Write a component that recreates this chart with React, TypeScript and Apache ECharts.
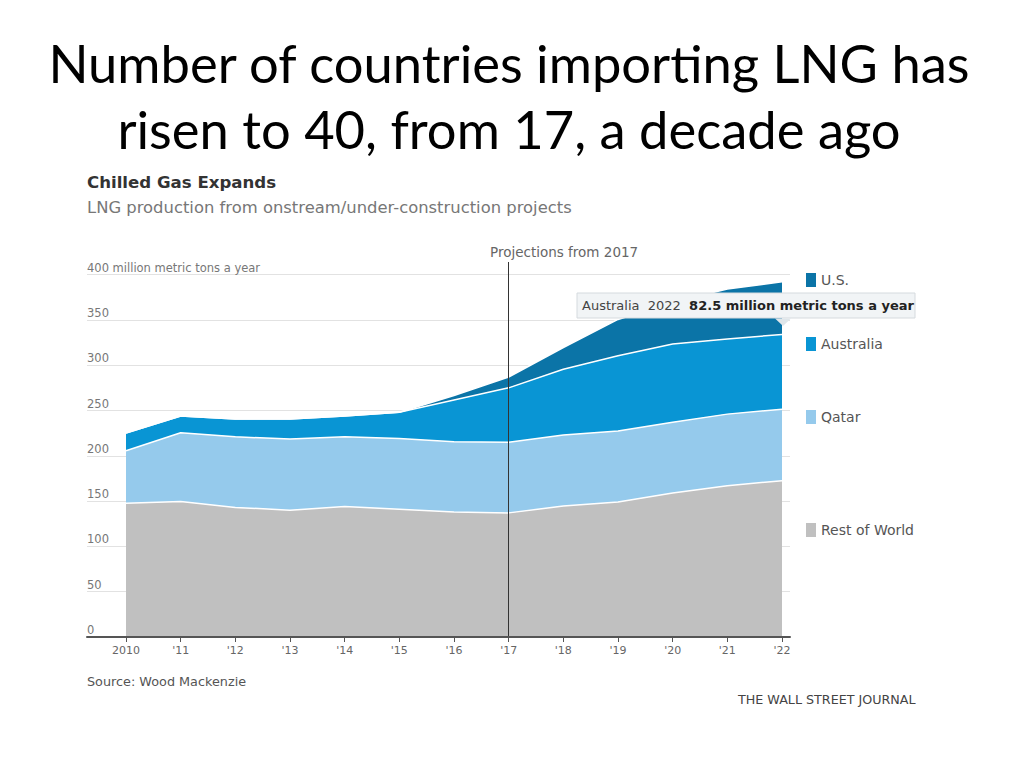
import React, { useEffect, useRef } from "react";
import * as echarts from "echarts";

const years = ["2010", "2011", "2012", "2013", "2014", "2015", "2016", "2017", "2018", "2019", "2020", "2021", "2022"];
const xLabels = ["2010", "'11", "'12", "'13", "'14", "'15", "'16", "'17", "'18", "'19", "'20", "'21", "'22"];
const restOfWorld = [147.5, 149.5, 143, 140, 144, 141, 138, 137, 144.5, 149, 159, 167, 172.5];
const qatar = [58, 76, 78, 78.5, 77, 78, 77.5, 78, 78.5, 78.5, 78, 79, 79];
const australia = [19.5, 18.5, 19.5, 22, 23, 29, 46, 60, 72.5, 83, 86.5, 83, 82.5];
const us = [0, 0, 0, 0, 0, 0, 5, 12, 24, 40, 46, 55, 58];
const yTicks = [0, 50, 100, 150, 200, 250, 300, 350, 400];

const FONT = "'DejaVu Sans', 'Open Sans', sans-serif";
const COLORS = { us: "#0b74a7", australia: "#0995d4", qatar: "#95caec", row: "#c0c0c0" };

export default function App() {
  const ref = useRef<HTMLDivElement>(null);
  useEffect(() => {
    if (!ref.current) return;
    const chart = echarts.init(ref.current, null, { renderer: "svg" });
    const top = 274.6;
    const bottom = 131;
    const mkSeries = (name: string, data: number[], color: string, extra: any = {}) => ({
      name,
      type: "line",
      stack: "total",
      data,
      xAxisIndex: 0,
      yAxisIndex: 0,
      symbol: "none",
      smooth: false,
      lineStyle: { color: "#ffffff", width: 1.5 },
      itemStyle: { color },
      areaStyle: { color, opacity: 1 },
      emphasis: { disabled: true },
      silent: true,
      ...extra,
    });
    const legendItem = (name: string, topPx: number) => ({
      data: [name],
      left: 806,
      top: topPx,
      orient: "vertical",
      icon: "rect",
      itemWidth: 10,
      itemHeight: 14,
      padding: 0,
      selectedMode: false,
      textStyle: { fontFamily: FONT, fontSize: 14, color: "#555" },
    });
    chart.setOption({
      animation: false,
      backgroundColor: "#ffffff",
      title: {
        text: "Number of countries importing LNG has\nrisen to 40, from 17, a decade ago",
        left: 504,
        textAlign: "center",
        top: 24,
        textStyle: {
          fontFamily: "Lato, 'Noto Sans', sans-serif",
          fontSize: 52.5,
          lineHeight: 66,
          fontWeight: "normal",
          color: "#000000",
        },
      },
      grid: [
        { left: 126, right: 1024 - 782, top, bottom },
        { left: 87, right: 1024 - 790, top, bottom },
      ],
      xAxis: [
        {
          type: "category",
          gridIndex: 0,
          data: years,
          boundaryGap: false,
          axisLine: { show: false },
          axisTick: { show: true, alignWithLabel: true, length: 5, lineStyle: { color: "#555" } },
          axisLabel: {
            margin: 8,
            fontFamily: FONT,
            fontSize: 11,
            color: "#666",
            formatter: (_v: string, i: number) => xLabels[i],
          },
          splitLine: { show: false },
        },
        {
          type: "value",
          gridIndex: 1,
          min: 0,
          max: 1,
          z: 6,
          axisLine: { show: true, lineStyle: { color: "#555", width: 2 } },
          axisTick: { show: false },
          axisLabel: { show: false },
          splitLine: { show: false },
        },
      ],
      yAxis: [
        {
          type: "value",
          gridIndex: 0,
          min: 0,
          max: 400,
          interval: 50,
          show: false,
          splitLine: { show: false },
        },
        {
          type: "value",
          gridIndex: 1,
          min: 0,
          max: 400,
          interval: 50,
          axisLine: { show: false },
          axisTick: { show: false },
          splitLine: { show: true, lineStyle: { color: "#e2e2e2", width: 1 } },
          axisLabel: {
            inside: true,
            margin: 0,
            verticalAlign: "bottom",
            padding: [0, 0, 1, 0],
            fontFamily: FONT,
            fontSize: 11.5,
            color: "#777",
            formatter: (v: number) =>
              v === yTicks[yTicks.length - 1] ? `${v} million metric tons a year` : `${v}`,
          },
        },
      ],
      legend: [
        legendItem("U.S.", 273),
        legendItem("Australia", 337),
        legendItem("Qatar", 410),
        legendItem("Rest of World", 523),
      ],
      series: [
        mkSeries("Rest of World", restOfWorld, COLORS.row),
        mkSeries("Qatar", qatar, COLORS.qatar),
        mkSeries("Australia", australia, COLORS.australia),
        mkSeries("U.S.", us, COLORS.us, {
          markLine: {
            silent: true,
            symbol: "none",
            label: { show: false },
            lineStyle: { color: "#333", width: 1, type: "solid" },
            data: [[{ xAxis: "2017", yAxis: 0 }, { xAxis: "2017", yAxis: 400, y: 262 }]],
          },
        }),
      ],
      graphic: [
        {
          type: "text",
          left: 87,
          top: 174,
          z: 100,
          style: { text: "Chilled Gas Expands", fontFamily: FONT, fontSize: 16.6, fontWeight: "bold", fill: "#333" },
        },
        {
          type: "text",
          left: 87,
          top: 199,
          z: 100,
          style: {
            text: "LNG production from onstream/under-construction projects",
            fontFamily: FONT,
            fontSize: 16.4,
            fill: "#777",
          },
        },
        {
          type: "text",
          left: 490,
          top: 245,
          z: 100,
          style: { text: "Projections from 2017", fontFamily: FONT, fontSize: 13.5, fill: "#666" },
        },
        {
          type: "rect",
          z: 100,
          shape: { x: 577, y: 293, width: 338, height: 25 },
          style: { fill: "#f1f4f6", stroke: "#d5dade", lineWidth: 1 },
        },
        {
          type: "polygon",
          z: 100,
          shape: { points: [[775, 318.5], [791, 318.5], [783, 326]] },
          style: { fill: "#dfe6ea" },
        },
        {
          type: "text",
          z: 101,
          x: 582,
          y: 305.5,
          style: {
            text: "{a|Australia  2022  }{b|82.5 million metric tons a year}",
            verticalAlign: "middle",
            rich: {
              a: { fontFamily: FONT, fontSize: 13, fill: "#444" },
              b: { fontFamily: FONT, fontSize: 13, fontWeight: "bold", fill: "#222" },
            },
          },
        },
        {
          type: "text",
          left: 87,
          top: 675,
          z: 100,
          style: { text: "Source: Wood Mackenzie", fontFamily: FONT, fontSize: 12.8, fill: "#555" },
        },
        {
          type: "text",
          left: 738,
          top: 693,
          z: 100,
          style: { text: "THE WALL STREET JOURNAL", fontFamily: FONT, fontSize: 12.7, fill: "#444" },
        },
      ],
    });
    return () => chart.dispose();
  }, []);
  return (
    <div
      ref={ref}
      style={{ position: "fixed", left: 0, top: 0, width: 1024, height: 768, background: "#fff" }}
    />
  );
}
